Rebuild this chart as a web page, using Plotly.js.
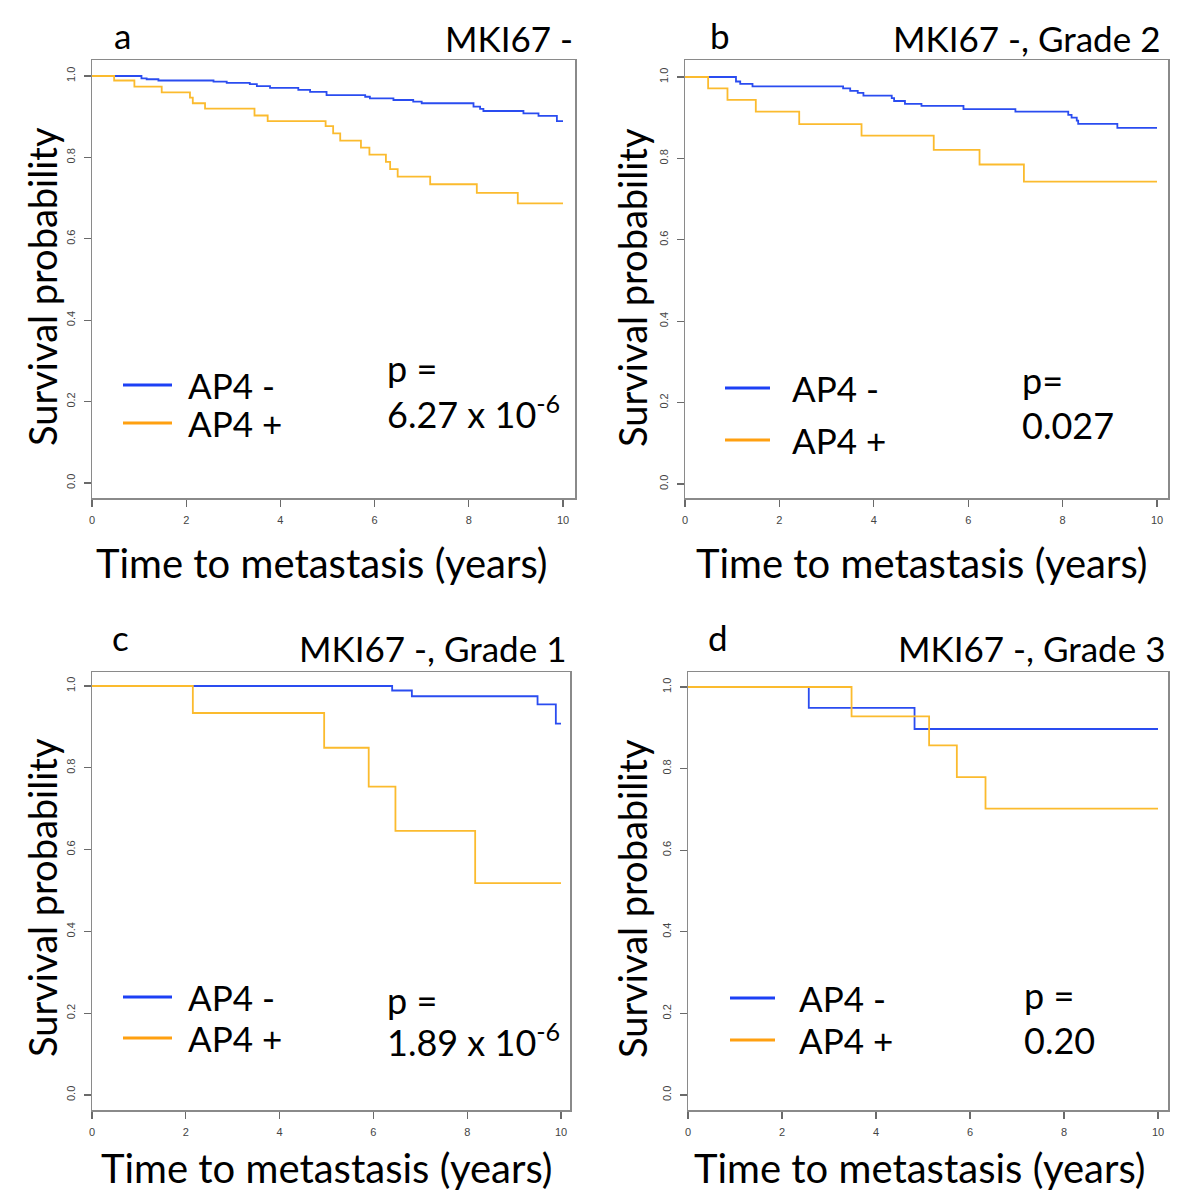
<!DOCTYPE html>
<html>
<head>
<meta charset="utf-8">
<script src="https://cdn.plot.ly/plotly-3.0.1.min.js"></script>
<style>html,body{margin:0;padding:0;background:#fff;}#chart{width:1200px;height:1204px;}</style>
</head>
<body>
<div id="chart"></div>
<script>
// ---------- data ----------
var panelLetters = ["a", "b", "c", "d"];
var panelTitles = ["MKI67 -", "MKI67 -, Grade 2", "MKI67 -, Grade 1", "MKI67 -, Grade 3"];
var seriesNames = ["AP4 -", "AP4 +"];
var pLabels = [["p =", "6.27 x 10<sup>-6</sup>"], ["p=", "0.027"], ["p =", "1.89 x 10<sup>-6</sup>"], ["p =", "0.20"]];
var xTickVals = [0, 2, 4, 6, 8, 10];
var yTickVals = [0, 0.2, 0.4, 0.6, 0.8, 1.0];
var yTickText = ["0.0", "0.2", "0.4", "0.6", "0.8", "1.0"];
var xTitle = "Time to metastasis (years)";
var yTitle = "Survival probability";

// panel a: MKI67 -
var aNegTime = [0, 1.05, 1.16, 1.41, 2.58, 2.86, 3.35, 3.5, 3.78, 4.38, 4.63, 4.98, 5.8, 5.9, 6.4, 6.82, 7.0, 8.1, 8.24, 8.31, 9.16, 9.48, 9.87, 10];
var aNegSurv = [1, 0.994, 0.992, 0.989, 0.986, 0.983, 0.98, 0.975, 0.971, 0.966, 0.961, 0.953, 0.949, 0.945, 0.941, 0.937, 0.933, 0.925, 0.919, 0.914, 0.908, 0.902, 0.889, 0.889];
var aPosTime = [0, 0.47, 0.9, 1.48, 2.08, 2.14, 2.4, 3.45, 3.73, 4.96, 5.12, 5.27, 5.71, 5.89, 6.24, 6.33, 6.49, 7.18, 8.17, 9.04, 10];
var aPosSurv = [1, 0.989, 0.974, 0.96, 0.947, 0.933, 0.92, 0.903, 0.889, 0.877, 0.859, 0.841, 0.824, 0.807, 0.789, 0.771, 0.753, 0.734, 0.713, 0.687, 0.687];
// panel b: MKI67 -, Grade 2
var bNegTime = [0, 1.08, 1.17, 1.43, 3.35, 3.5, 3.66, 3.78, 4.38, 4.43, 4.66, 5.01, 5.9, 7.0, 8.12, 8.19, 8.3, 8.33, 9.16, 10];
var bNegSurv = [1, 0.989, 0.983, 0.977, 0.972, 0.966, 0.961, 0.954, 0.948, 0.941, 0.934, 0.929, 0.921, 0.915, 0.907, 0.9, 0.893, 0.885, 0.875, 0.875];
var bPosTime = [0, 0.49, 0.9, 1.5, 2.42, 3.74, 5.27, 6.24, 7.18, 10];
var bPosSurv = [1, 0.972, 0.944, 0.915, 0.884, 0.856, 0.821, 0.785, 0.743, 0.743];
// panel c: MKI67 -, Grade 1
var cNegTime = [0, 6.4, 6.82, 9.5, 9.89, 10];
var cNegSurv = [1, 0.989, 0.975, 0.955, 0.908, 0.908];
var cPosTime = [0, 2.15, 4.95, 5.9, 6.47, 8.17, 10];
var cPosSurv = [1, 0.934, 0.849, 0.754, 0.646, 0.518, 0.518];
// panel d: MKI67 -, Grade 3
var dNegTime = [0, 2.57, 4.82, 10];
var dNegSurv = [1, 0.949, 0.897, 0.897];
var dPosTime = [0, 3.48, 5.13, 5.72, 6.33, 10];
var dPosSurv = [1, 0.928, 0.857, 0.779, 0.702, 0.702];

// ---------- layout / style ----------
var W = 1200, H = 1204;
function px(x) { return x / W; }
function py(y) { return 1 - y / H; }

var curveBlue = "#2a4cf0", curveOrange = "#fbbb2e";
var keyBlue = "#1c40f5", keyOrange = "#ffa010";
var bigFont = "Lato, 'Open Sans', sans-serif";

var panels = [
  {neg: [aNegTime, aNegSurv], pos: [aPosTime, aPosSurv], box: [92, 575, 60, 498], x10: 563, y1: 76, y0: 483,
   letter: [122, 35], title: [575, 38], xt: [322, 563], yt: [42, 287],
   key: [123, 172, 186, 385, 423], p: [385, 368, 412]},
  {neg: [bNegTime, bNegSurv], pos: [bPosTime, bPosSurv], box: [685, 1168, 60, 498], x10: 1157, y1: 77, y0: 484,
   letter: [720, 35], title: [1162, 38], xt: [922, 563], yt: [632, 287],
   key: [725, 770, 790, 388, 440], p: [1020, 380, 425]},
  {neg: [cNegTime, cNegSurv], pos: [cPosTime, cPosSurv], box: [92, 570, 672, 1110], x10: 561, y1: 686, y0: 1095,
   letter: [120, 637], title: [568, 648], xt: [327, 1168], yt: [42, 898],
   key: [123, 172, 186, 997, 1038], p: [385, 1000, 1040]},
  {neg: [dNegTime, dNegSurv], pos: [dPosTime, dPosSurv], box: [688, 1168, 672, 1110], x10: 1158, y1: 687, y0: 1095,
   letter: [718, 637], title: [1167, 648], xt: [920, 1168], yt: [632, 898],
   key: [730, 775, 797, 998, 1040], p: [1022, 995, 1040]}
];

var traces = [];
var layout = {
  width: W, height: H,
  margin: {l: 0, r: 0, t: 0, b: 0},
  paper_bgcolor: "#ffffff", plot_bgcolor: "#ffffff",
  showlegend: false,
  annotations: [], shapes: []
};

panels.forEach(function (p, i) {
  var n = i === 0 ? "" : String(i + 1);
  var xa = "x" + n, ya = "y" + n;
  var b = p.box;
  var x0px = b[0];
  var perYear = (p.x10 - x0px) / 10;
  var xMax = (b[1] - x0px) / perYear;
  var perUnit = p.y0 - p.y1;
  var yMin = -(b[3] - p.y0) / perUnit;
  var yMax = 1 + (p.y1 - b[2]) / perUnit;

  traces.push({x: p.neg[0], y: p.neg[1], xaxis: xa, yaxis: ya, type: "scatter", mode: "lines",
    name: seriesNames[0], line: {color: curveBlue, width: 1.8, shape: "hv"}, hoverinfo: "x+y+name"});
  traces.push({x: p.pos[0], y: p.pos[1], xaxis: xa, yaxis: ya, type: "scatter", mode: "lines",
    name: seriesNames[1], line: {color: curveOrange, width: 1.8, shape: "hv"}, hoverinfo: "x+y+name"});

  var common = {
    showgrid: false, zeroline: false, showline: true, mirror: true,
    linecolor: "#8a8a8a", linewidth: 1.5,
    ticks: "outside", ticklen: 7, tickwidth: 1.2, tickcolor: "#6a6a6a",
    tickfont: {family: "'Liberation Sans', Arial, sans-serif", size: 11, color: "#444"},
    ticklabelstandoff: 4,
    fixedrange: true
  };
  layout["xaxis" + n] = Object.assign({}, common, {
    domain: [px(b[0]), px(b[1])], range: [0, xMax], anchor: ya,
    tickmode: "array", tickvals: xTickVals
  });
  layout["yaxis" + n] = Object.assign({}, common, {
    domain: [py(b[3]), py(b[2])], range: [yMin, yMax], anchor: xa,
    tickmode: "array", tickvals: yTickVals, ticktext: yTickText, tickangle: -90
  });

  var A = layout.annotations;
  function ann(text, x, y, size, xanchor, extra) {
    A.push(Object.assign({text: text, x: px(x), y: py(y), xref: "paper", yref: "paper",
      showarrow: false, xanchor: xanchor, yanchor: "middle",
      font: {family: bigFont, size: size, color: "#000"}}, extra || {}));
  }
  ann(panelLetters[i], p.letter[0], p.letter[1], 35, "center");
  ann(panelTitles[i], p.title[0], p.title[1], 35, "right");
  ann(xTitle, p.xt[0], p.xt[1], 40, "center");
  ann(yTitle, p.yt[0], p.yt[1], 38, "center", {textangle: -90});
  ann(seriesNames[0], p.key[2], p.key[3], 35, "left");
  ann(seriesNames[1], p.key[2], p.key[4], 35, "left");
  ann(pLabels[i][0], p.p[0], p.p[1], 36, "left");
  ann(pLabels[i][1], p.p[0], p.p[2], 36, "left");

  layout.shapes.push({type: "line", xref: "paper", yref: "paper",
    x0: px(p.key[0]), x1: px(p.key[1]), y0: py(p.key[3]), y1: py(p.key[3]),
    line: {color: keyBlue, width: 3}});
  layout.shapes.push({type: "line", xref: "paper", yref: "paper",
    x0: px(p.key[0]), x1: px(p.key[1]), y0: py(p.key[4]), y1: py(p.key[4]),
    line: {color: keyOrange, width: 3}});
});

Plotly.newPlot("chart", traces, layout, {displayModeBar: false, staticPlot: true});
</script>
</body>
</html>
